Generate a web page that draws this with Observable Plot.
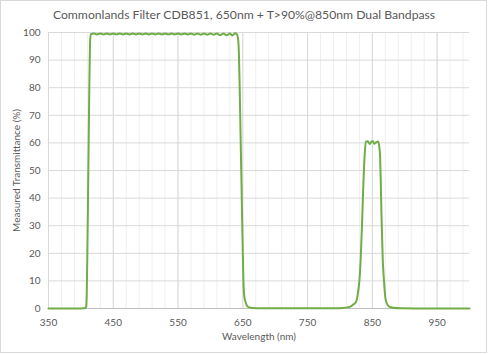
<!DOCTYPE html>
<html>
<head>
<meta charset="utf-8">
<script src="https://cdn.jsdelivr.net/npm/d3@7"></script>
<script src="https://cdn.jsdelivr.net/npm/@observablehq/plot@0.6"></script>
<style>
  html, body { margin: 0; padding: 0; background: #fff; }
  #wrap { position: relative; width: 488px; height: 354px; font-family: Lato, "Noto Sans", sans-serif; }
  #wrap svg { position: absolute; left: 0; top: 0; }
  #border { position: absolute; left: 0; top: 0; width: 485px; height: 351px; border: 1px solid #d9d9d9; pointer-events: none; }
  #title { position: absolute; left: 0; width: 488px; top: 7px; text-align: center; font-size: 12.2px; color: #595959; white-space: nowrap; }
</style>
</head>
<body>
<div id="wrap">
  <div id="title">Commonlands Filter CDB851, 650nm + T&gt;90%@850nm Dual Bandpass</div>
  <div id="border"></div>
</div>
<script>
const wavelength = [
  350, 380, 400, 405, 407, 408, 409, 410, 411, 412, 413, 414, 415,
  420, 425, 430, 435, 440, 445, 450, 455, 460, 465, 470, 475, 480, 485, 490, 495,
  500, 505, 510, 515, 520, 525, 530, 535, 540, 545, 550, 555, 560, 565, 570, 575,
  580, 585, 590, 595, 600, 605, 610, 615, 620, 625, 630, 634, 638, 641,
  643, 644, 645, 646, 647, 648, 649, 650, 651, 652, 654, 656, 659, 665, 680, 720,
  760, 790, 805, 812, 817, 821, 825, 828, 830, 832, 834, 836, 838, 840, 843, 846,
  849, 851, 853, 856, 859, 861, 862, 863, 864, 866, 868, 870, 872, 876, 882, 895,
  930, 1000
];
const transmittance = [
  0, 0, 0, 0.05, 0.2, 0.6, 5, 20, 40, 60, 80, 95, 99.3,
  99.6, 99.3, 99.6, 99.3, 99.6, 99.3, 99.6, 99.3, 99.6, 99.3, 99.6, 99.3, 99.6, 99.3, 99.6, 99.3,
  99.6, 99.3, 99.6, 99.3, 99.6, 99.3, 99.6, 99.3, 99.6, 99.3, 99.6, 99.3, 99.6, 99.3, 99.6, 99.2,
  99.6, 99.2, 99.6, 99.2, 99.6, 99.2, 99.6, 99.1, 99.6, 99.0, 99.6, 98.9, 99.7, 99.3,
  97, 92, 82, 70, 57, 45, 32, 20, 10, 5, 2.5, 1.2, 0.5, 0.2, 0.1, 0.05,
  0.05, 0.1, 0.2, 0.4, 0.8, 1.5, 2.5, 6, 10, 18, 30, 44, 55, 60.3, 60.6, 59.6,
  60.5, 60.6, 59.7, 60.2, 60.5, 58, 55, 46, 35, 18, 10, 4, 2, 0.7, 0.3, 0.1,
  0.03, 0
];
const data = wavelength.map((w, i) => ({w, t: transmittance[i]}));

const xTicks = [350, 450, 550, 650, 750, 850, 950];
const yTicks = [0, 10, 20, 30, 40, 50, 60, 70, 80, 90, 100];
const xMinorGrid = d3.range(370, 1000, 20);
const yGrid = [10, 20, 30, 40, 50, 60, 70, 80, 90, 100];

const chart = Plot.plot({
  width: 488,
  height: 354,
  marginLeft: 48,
  marginRight: 19,
  marginTop: 32,
  marginBottom: 46,
  style: {fontFamily: "Lato, 'Noto Sans', sans-serif", fontSize: "10px", color: "#595959", background: "transparent", overflow: "visible"},
  x: {domain: [350, 1000]},
  y: {domain: [0, 100]},
  marks: [
    Plot.gridX(xMinorGrid, {stroke: "#efefef", strokeOpacity: 1}),
    Plot.gridX(xTicks, {stroke: "#d9d9d9", strokeOpacity: 1}),
    Plot.gridY(yGrid, {stroke: "#d9d9d9", strokeOpacity: 1}),
    Plot.ruleY([0], {stroke: "#bfbfbf"}),
    Plot.axisX({ticks: xTicks, tickSize: 0, tickPadding: 10, label: "Wavelength (nm)", labelAnchor: "center", labelOffset: 31, labelArrow: "none", fill: "#595959"}),
    Plot.axisY({ticks: yTicks, tickSize: 0, tickPadding: 8, label: "Measured Transmittance (%)", labelAnchor: "center", labelOffset: 36, labelArrow: "none", fill: "#595959"}),
    Plot.line(data, {x: "w", y: "t", stroke: "#70ad47", strokeWidth: 2, curve: "monotone-x"})
  ]
});
document.getElementById("wrap").prepend(chart);
</script>
</body>
</html>
